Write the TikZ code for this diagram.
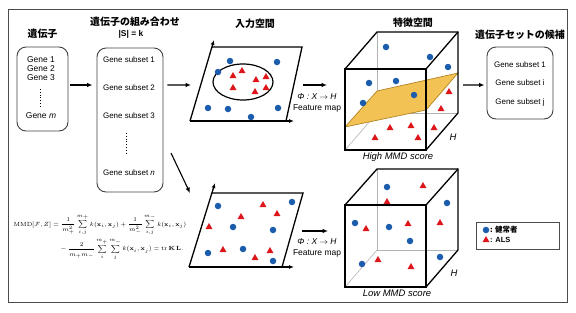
\documentclass[tikz,border=0pt]{standalone}
\usepackage{amsmath}
\usepackage[no-math]{fontspec}
\setmainfont{Liberation Sans}
\newfontfamily\jp{Noto Sans CJK JP}
\usetikzlibrary{arrows.meta,positioning,shapes.geometric}

\definecolor{ptblue}{RGB}{28,92,172}
\definecolor{ptred}{RGB}{222,22,28}
\definecolor{planefill}{RGB}{242,194,84}
\definecolor{planeline}{RGB}{180,132,36}

\begin{document}
\begin{tikzpicture}[x=1bp, y=-1bp,
    box/.style={draw=black!75, line width=0.9bp, rounded corners=9bp, inner sep=0pt},
    ttl/.style={font=\jp\bfseries\fontsize{10}{12}\selectfont, inner sep=1bp},
    lbl/.style={font=\fontsize{8}{10}\selectfont, inner sep=1bp},
    scoretxt/.style={font=\itshape\fontsize{9.5}{11}\selectfont, inner sep=1bp},
    arr/.style={-{Latex[length=5.5bp,width=4.5bp]}, line width=1.1bp},
    ln/.style={line width=1.3bp, line join=miter},
    hid/.style={black!30, line width=0.6bp},
    bdot/.style={circle, fill=ptblue, minimum size=6.5bp, inner sep=0pt},
    rtri/.style={regular polygon, regular polygon sides=3, fill=ptred, minimum size=8bp, inner sep=0pt},
    vdots/.style={line width=1bp, dash pattern=on 0.9bp off 1.9bp}
  ]
    \useasboundingbox (0,0) rectangle (576,312);
    \draw[black!70, line width=0.8bp] (8,9) rectangle (567,302);

    % genes and subsets
    \node[box, minimum width=51bp, minimum height=84bp] (genes) at (42.5,89) {};
    \node[ttl] (tgenes) at (42.5,34) {遺伝子};
    \node[lbl, font=\fontsize{8.5}{10}\selectfont] (g1) at (41,60) {Gene 1};
    \node[lbl, font=\fontsize{8.5}{10}\selectfont] (g2) at (41,69) {Gene 2};
    \node[lbl, font=\fontsize{8.5}{10}\selectfont] (g3) at (41,78) {Gene 3};
    \node[lbl, font=\fontsize{8.5}{10}\selectfont] (gm) at (41,116) {Gene \textit{m}};
    \draw[vdots] (40,89) -- (40,108);

    \node[box, minimum width=66bp, minimum height=144bp] (subsets) at (130,120) {};
    \node[ttl] (tsub) at (135,22) {遺伝子の組み合わせ};
    \node[lbl, font=\bfseries\fontsize{8.5}{10}\selectfont] (tk) at (131,34) {|S| = k};
    \node[lbl] (s1) at (129,60) {Gene subset 1};
    \node[lbl] (s2) at (129,88) {Gene subset 2};
    \node[lbl] (s3) at (129,116) {Gene subset 3};
    \node[lbl] (sn) at (129,173) {Gene subset \textit{n}};
    \draw[vdots] (126,133) -- (126,153);

    \draw[arr, shorten <=2bp, shorten >=4bp] ([yshift=4bp]genes.east) -- ([yshift=4bp]genes.east -| subsets.west);

    % input spaces
    \node[ttl] (tin) at (255,24) {入力空間};
    \coordinate (ubl) at (190,121);
    \coordinate (utl) at (212,47);
    \coordinate (utr) at (302,47);
    \coordinate (ubr) at (286,121);
    \coordinate (uyax) at (214,40);
    \coordinate (uxax) at (294,121);
    \draw[ln] (utl) -- (utr) -- (ubr);
    \draw[ln, -{Latex[length=5bp,width=4bp]}] (ubl) -- (uyax);
    \draw[ln, -{Latex[length=5bp,width=4bp]}] (ubl) -- (uxax);
    \draw[line width=1.2bp] (243,82) ellipse [x radius=30, y radius=18];
    \foreach \x/\y [count=\i] in {230/61, 277/62, 218/72, 208/108, 228/109, 251/117, 278/108}
      \node[bdot] (ua\i) at (\x,\y) {};
    \foreach \x/\y [count=\i] in {242/71, 233/76, 256/80, 266/77, 233/88, 255/92, 266/88}
      \node[rtri] (ub\i) at (\x,\y) {};

    \coordinate (lbl0) at (189,267);
    \coordinate (ltl) at (212,193);
    \coordinate (ltr) at (303,193);
    \coordinate (lbr) at (282,267);
    \coordinate (lyax) at (215,183);
    \coordinate (lxax) at (294,267);
    \draw[ln] (ltl) -- (ltr) -- (lbr);
    \draw[ln, -{Latex[length=5bp,width=4bp]}] (lbl0) -- (lyax);
    \draw[ln, -{Latex[length=5bp,width=4bp]}] (lbl0) -- (lxax);
    \foreach \x/\y [count=\i] in {218/206, 292/202, 233/227, 273/230, 208/253, 243/249, 273/261}
      \node[bdot] (la\i) at (\x,\y) {};
    \foreach \x/\y [count=\i] in {263/205, 277/214, 241/217, 209/227, 223/250, 270/251, 255/258}
      \node[rtri] (lb\i) at (\x,\y) {};

    \coordinate (inU) at (191,85);
    \coordinate (dgA) at (171,153);
    \coordinate (inL) at (190,193);
    \draw[arr] ([xshift=4bp, yshift=35bp]subsets.east) -- (inU);
    \draw[arr] (dgA) -- (inL);

    % feature maps
    \coordinate (fmUa) at (303,85);
    \coordinate (fmUb) at (327,85);
    \coordinate (fmLa) at (302,231);
    \coordinate (fmLb) at (328,231);
    \draw[arr] (fmUa) -- (fmUb);
    \draw[arr] (fmLa) -- (fmLb);
    \node[lbl, font=\itshape\fontsize{8.5}{10}\selectfont] (phiU) at (317,97) {Φ : X $\rightarrow$ H};
    \node[lbl, font=\fontsize{8.5}{10}\selectfont] (fmU) at (317,108) {Feature map};
    \node[lbl, font=\itshape\fontsize{8.5}{10}\selectfont] (phiL) at (317,242) {Φ : X $\rightarrow$ H};
    \node[lbl, font=\fontsize{8.5}{10}\selectfont] (fmL) at (317,253) {Feature map};

    % feature space, high score
    \node[ttl] (tfeat) at (413,23) {特徴空間};
    \begin{scope}[shift={(345,69)}]
      \draw[hid] (32,44) -- (0,81);
      \draw[hid] (32,44) -- (32,-37);
      \draw[hid] (32,44) -- (113,44);
    \end{scope}
    \draw[planeline, fill=planefill, line width=0.7bp] (345,127) -- (377,91) -- (458,73) -- (426,110) -- cycle;
    \foreach \x/\y [count=\i] in {386/47, 430/57, 448/67, 369/83, 396/81, 414/95, 363/103}
      \node[bdot] (ha\i) at (\x,\y) {};
    \foreach \x/\y [count=\i] in {449/92, 441/109, 434/128, 390/128, 411/126, 375/138, 418/138}
      \node[rtri] (hb\i) at (\x,\y) {};
    \begin{scope}[shift={(345,69)}]
      \draw[ln] (0,0) rectangle (81,81);
      \draw[ln] (0,0) -- (32,-37) -- (113,-37) -- (113,44) -- (81,81);
      \draw[ln] (81,0) -- (113,-37);
    \end{scope}
    \node[scoretxt] (hH) at (453,137) {H};
    \node[scoretxt] (hscore) at (398,157) {High MMD score};

    % feature space, low score
    \begin{scope}[shift={(345,205)}]
      \draw[hid] (32,45) -- (0,82);
      \draw[hid] (32,45) -- (32,-36);
      \draw[hid] (32,45) -- (113,45);
    \end{scope}
    \foreach \x/\y [count=\i] in {387/187, 447/203, 355/223, 389/227, 410/241, 362/264, 440/257}
      \node[bdot] (wa\i) at (\x,\y) {};
    \foreach \x/\y [count=\i] in {423/186, 387/202, 366/229, 408/224, 440/223, 378/260, 411/267}
      \node[rtri] (wb\i) at (\x,\y) {};
    \begin{scope}[shift={(345,205)}]
      \draw[ln] (0,0) rectangle (81,82);
      \draw[ln] (0,0) -- (32,-36) -- (113,-36) -- (113,45) -- (81,82);
      \draw[ln] (81,0) -- (113,-36);
    \end{scope}
    \node[scoretxt] (lH) at (454,273) {H};
    \node[scoretxt] (lscore) at (397,293) {Low MMD score};

    % candidates
    \node[box, minimum width=66bp, minimum height=72bp] (cand) at (520,83) {};
    \node[ttl] (tcand) at (520,35) {遺伝子セットの候補};
    \node[lbl] (c1) at (520,65) {Gene subset 1};
    \node[lbl] (ci) at (520,83) {Gene subset i};
    \node[lbl] (cj) at (520,102) {Gene subset j};
    \coordinate (cdA) at (463,85);
    \draw[arr, shorten >=2bp] (cdA) -- ([yshift=-2bp]cand.west);

    % legend
    \node[draw=black!70, line width=0.9bp, minimum width=83bp, minimum height=27bp, inner sep=0pt] (legend) at (517.5,235.5) {};
    \node[bdot] (kblue) at (486,230) {};
    \node[rtri] (kred) at (486,240) {};
    \node[lbl, anchor=west, font=\jp\bfseries\fontsize{7.5}{9}\selectfont] (kbt) at (489,230) {: 健常者};
    \node[lbl, anchor=west, font=\bfseries\fontsize{7.5}{9}\selectfont] (krt) at (489,240) {: ALS};

    % formula
    \node[inner sep=0pt, font=\fontsize{5.6}{6.5}\selectfont] (mmd) at (100,237) {$\begin{aligned}
      \mathrm{MMD}[\mathcal{F},Z] &= \frac{1}{m_+^2}\sum_{i,j}^{m_+} k(\mathbf{x}_i,\mathbf{x}_j)
        + \frac{1}{m_-^2}\sum_{i,j}^{m_-} k(\mathbf{x}_i,\mathbf{x}_j)\\
      &\quad\; - \frac{2}{m_+m_-}\sum_{i}^{m_+}\sum_{j}^{m_-} k(\mathbf{x}_i,\mathbf{x}_j)
        = \operatorname{tr}\mathbf{K}\,\mathbf{L}.
    \end{aligned}$};
  \end{tikzpicture}
\end{document}
